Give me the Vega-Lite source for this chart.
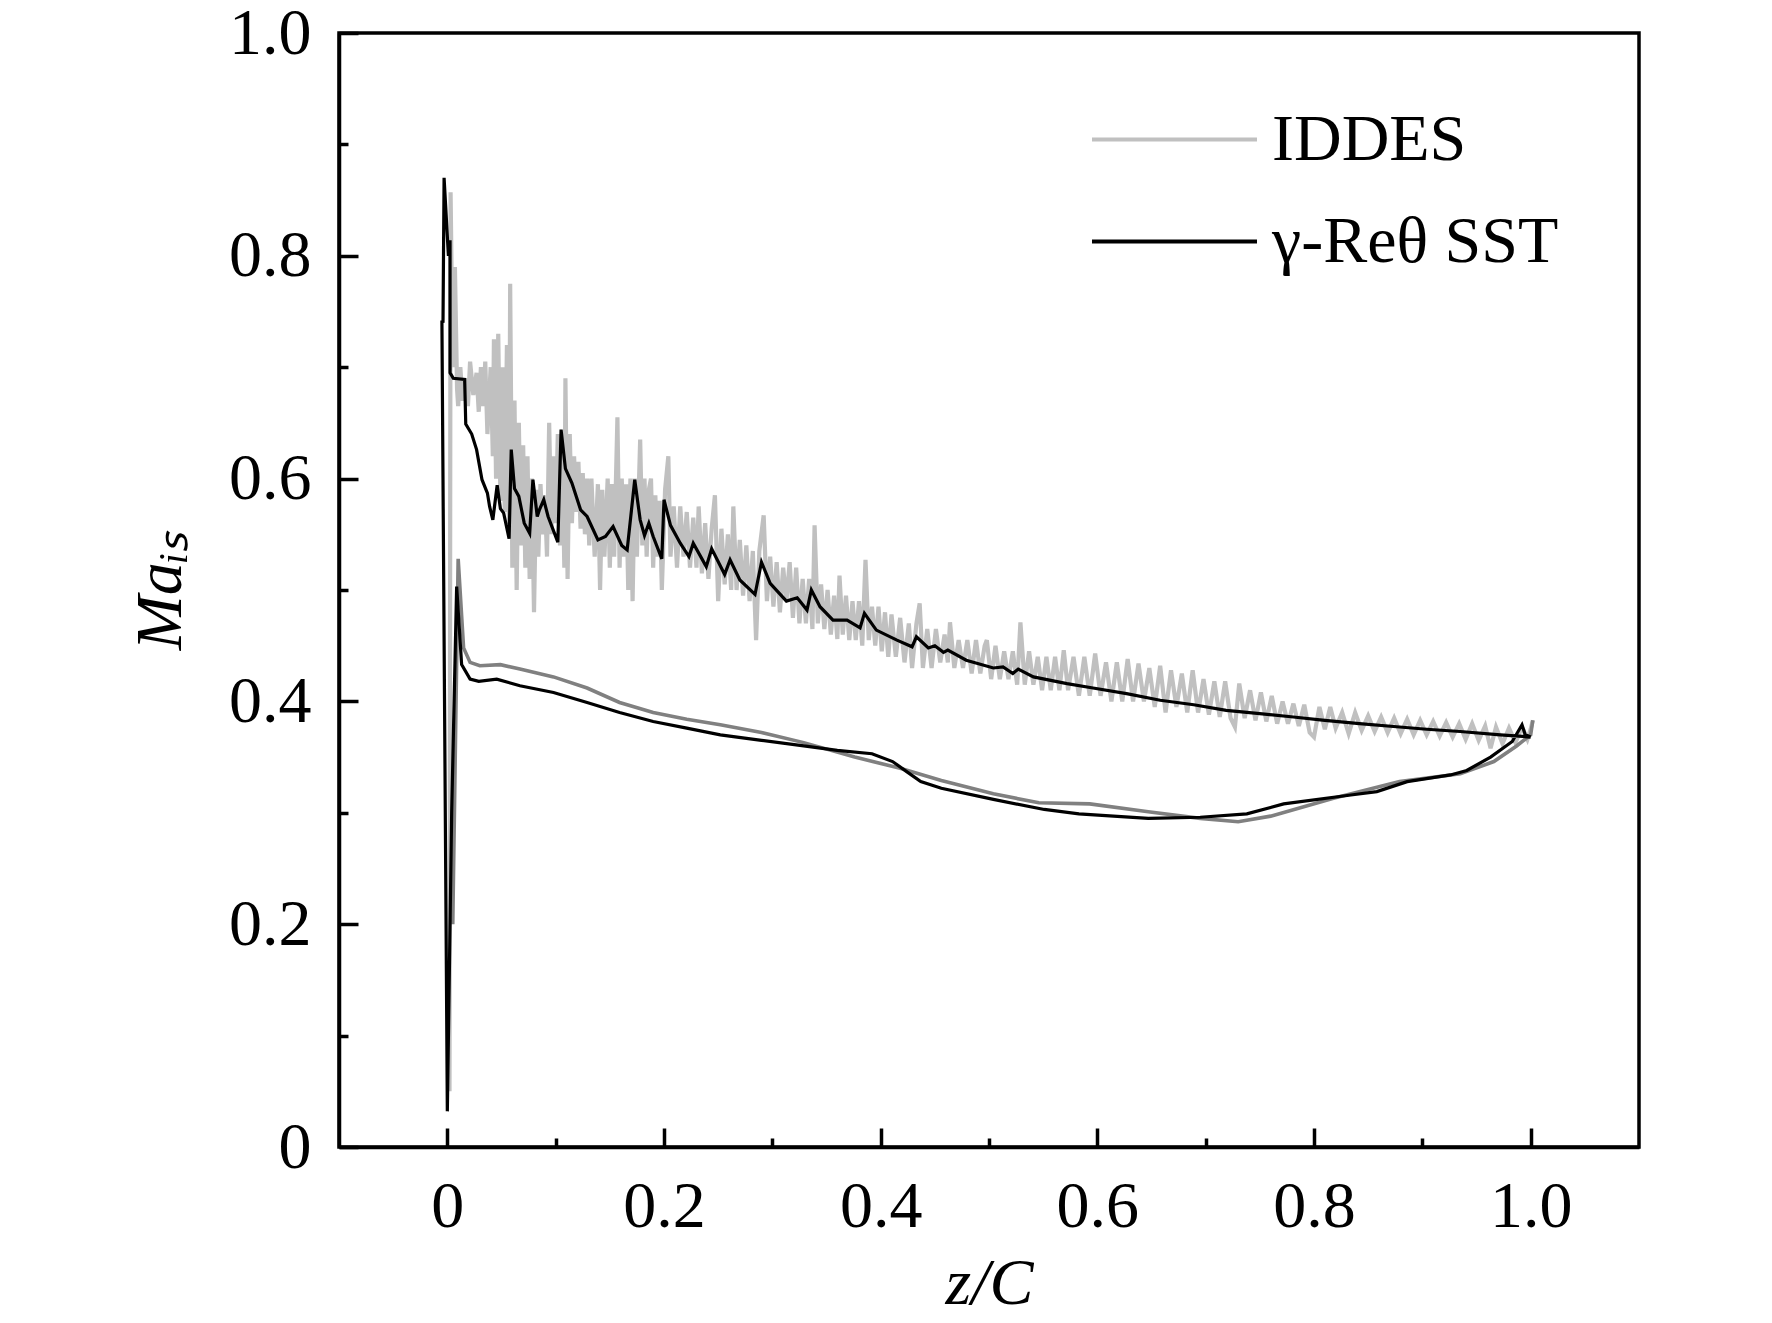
{
  "$schema": "https://vega.github.io/schema/vega-lite/v6.json",
  "autosize": {"type": "none"},
  "padding": {"left": 339, "top": 33, "right": 133, "bottom": 176},
  "width": 1300,
  "height": 1114,
  "config": {
    "view": {"stroke": "#000000", "strokeWidth": 3.5},
    "font": "Liberation Serif",
    "axis": {
      "domainColor": "#000000", "domainWidth": 3.5,
      "tickColor": "#000000", "tickWidth": 3.5,
      "labelFont": "Liberation Serif", "labelFontSize": 66, "labelColor": "#000000",
      "titleFont": "Liberation Serif", "titleFontSize": 66, "titleColor": "#000000",
      "titleFontWeight": "normal", "titleFontStyle": "italic",
      "grid": false
    },
    "legend": {
      "labelFont": "Liberation Serif", "labelFontSize": 66, "labelColor": "#000000", "labelLimit": 0
    }
  },
  "data": {
    "values": [
      {"c": "IDDES-band", "z": 0.30, "m": 0.478, "m2": 0.523},
      {"c": "IDDES-band", "z": 0.35, "m": 0.462, "m2": 0.500},
      {"c": "IDDES-band", "z": 0.40, "m": 0.446, "m2": 0.480},
      {"c": "IDDES-band", "z": 0.45, "m": 0.432, "m2": 0.464},
      {"c": "IDDES-band", "z": 0.50, "m": 0.421, "m2": 0.450},
      {"c": "IDDES-band", "z": 0.55, "m": 0.411, "m2": 0.440},
      {"c": "IDDES-band", "z": 0.60, "m": 0.406, "m2": 0.440},
      {"c": "IDDES-band", "z": 0.65, "m": 0.396, "m2": 0.430},
      {"c": "IDDES-band", "z": 0.70, "m": 0.389, "m2": 0.420},
      {"c": "IDDES-band", "z": 0.75, "m": 0.383, "m2": 0.407},
      {"c": "IDDES-band", "z": 0.80, "m": 0.372, "m2": 0.396},
      {"c": "IDDES-band", "z": 0.85, "m": 0.374, "m2": 0.387},
      {"c": "IDDES-band", "z": 0.90, "m": 0.371, "m2": 0.382},
      {"c": "IDDES-band", "z": 0.95, "m": 0.366, "m2": 0.379},
      {"c": "IDDES-band", "z": 1.00, "m": 0.367, "m2": 0.375},

      {"c": "IDDES", "z": 0.002, "m": 0.05},
      {"c": "IDDES", "z": 0.003, "m": 0.857},
      {"c": "IDDES", "z": 0.005, "m": 0.70},
      {"c": "IDDES", "z": 0.007, "m": 0.79},
      {"c": "IDDES", "z": 0.009, "m": 0.68},
      {"c": "IDDES", "z": 0.010, "m": 0.665},
      {"c": "IDDES", "z": 0.012, "m": 0.70},
      {"c": "IDDES", "z": 0.014, "m": 0.67},
      {"c": "IDDES", "z": 0.017, "m": 0.69},
      {"c": "IDDES", "z": 0.019, "m": 0.665},
      {"c": "IDDES", "z": 0.021, "m": 0.705},
      {"c": "IDDES", "z": 0.024, "m": 0.675},
      {"c": "IDDES", "z": 0.027, "m": 0.695},
      {"c": "IDDES", "z": 0.029, "m": 0.66},
      {"c": "IDDES", "z": 0.031, "m": 0.70},
      {"c": "IDDES", "z": 0.033, "m": 0.665},
      {"c": "IDDES", "z": 0.035, "m": 0.705},
      {"c": "IDDES", "z": 0.037, "m": 0.64},
      {"c": "IDDES", "z": 0.040, "m": 0.70},
      {"c": "IDDES", "z": 0.042, "m": 0.62},
      {"c": "IDDES", "z": 0.043, "m": 0.725},
      {"c": "IDDES", "z": 0.045, "m": 0.60},
      {"c": "IDDES", "z": 0.047, "m": 0.73},
      {"c": "IDDES", "z": 0.049, "m": 0.58},
      {"c": "IDDES", "z": 0.051, "m": 0.70},
      {"c": "IDDES", "z": 0.053, "m": 0.57},
      {"c": "IDDES", "z": 0.055, "m": 0.72},
      {"c": "IDDES", "z": 0.057, "m": 0.55},
      {"c": "IDDES", "z": 0.058, "m": 0.775},
      {"c": "IDDES", "z": 0.060, "m": 0.52},
      {"c": "IDDES", "z": 0.062, "m": 0.67},
      {"c": "IDDES", "z": 0.064, "m": 0.50},
      {"c": "IDDES", "z": 0.066, "m": 0.65},
      {"c": "IDDES", "z": 0.068, "m": 0.54},
      {"c": "IDDES", "z": 0.070, "m": 0.63},
      {"c": "IDDES", "z": 0.072, "m": 0.52},
      {"c": "IDDES", "z": 0.074, "m": 0.62},
      {"c": "IDDES", "z": 0.076, "m": 0.51},
      {"c": "IDDES", "z": 0.078, "m": 0.60},
      {"c": "IDDES", "z": 0.080, "m": 0.48},
      {"c": "IDDES", "z": 0.082, "m": 0.59},
      {"c": "IDDES", "z": 0.084, "m": 0.53},
      {"c": "IDDES", "z": 0.086, "m": 0.595},
      {"c": "IDDES", "z": 0.088, "m": 0.55},
      {"c": "IDDES", "z": 0.090, "m": 0.585},
      {"c": "IDDES", "z": 0.092, "m": 0.53},
      {"c": "IDDES", "z": 0.094, "m": 0.65},
      {"c": "IDDES", "z": 0.096, "m": 0.55},
      {"c": "IDDES", "z": 0.098, "m": 0.62},
      {"c": "IDDES", "z": 0.100, "m": 0.56},
      {"c": "IDDES", "z": 0.102, "m": 0.64},
      {"c": "IDDES", "z": 0.104, "m": 0.54},
      {"c": "IDDES", "z": 0.106, "m": 0.63},
      {"c": "IDDES", "z": 0.108, "m": 0.52},
      {"c": "IDDES", "z": 0.109, "m": 0.69},
      {"c": "IDDES", "z": 0.111, "m": 0.51},
      {"c": "IDDES", "z": 0.113, "m": 0.64},
      {"c": "IDDES", "z": 0.115, "m": 0.56},
      {"c": "IDDES", "z": 0.117, "m": 0.62},
      {"c": "IDDES", "z": 0.119, "m": 0.57},
      {"c": "IDDES", "z": 0.121, "m": 0.615},
      {"c": "IDDES", "z": 0.123, "m": 0.555},
      {"c": "IDDES", "z": 0.125, "m": 0.605},
      {"c": "IDDES", "z": 0.127, "m": 0.55},
      {"c": "IDDES", "z": 0.129, "m": 0.60},
      {"c": "IDDES", "z": 0.131, "m": 0.54},
      {"c": "IDDES", "z": 0.133, "m": 0.60},
      {"c": "IDDES", "z": 0.136, "m": 0.53},
      {"c": "IDDES", "z": 0.139, "m": 0.595},
      {"c": "IDDES", "z": 0.141, "m": 0.50},
      {"c": "IDDES", "z": 0.143, "m": 0.59},
      {"c": "IDDES", "z": 0.145, "m": 0.53},
      {"c": "IDDES", "z": 0.148, "m": 0.60},
      {"c": "IDDES", "z": 0.150, "m": 0.52},
      {"c": "IDDES", "z": 0.152, "m": 0.595},
      {"c": "IDDES", "z": 0.154, "m": 0.53},
      {"c": "IDDES", "z": 0.157, "m": 0.655},
      {"c": "IDDES", "z": 0.159, "m": 0.52},
      {"c": "IDDES", "z": 0.161, "m": 0.60},
      {"c": "IDDES", "z": 0.163, "m": 0.53},
      {"c": "IDDES", "z": 0.165, "m": 0.595},
      {"c": "IDDES", "z": 0.167, "m": 0.50},
      {"c": "IDDES", "z": 0.169, "m": 0.60},
      {"c": "IDDES", "z": 0.171, "m": 0.49},
      {"c": "IDDES", "z": 0.173, "m": 0.60},
      {"c": "IDDES", "z": 0.175, "m": 0.53},
      {"c": "IDDES", "z": 0.178, "m": 0.635},
      {"c": "IDDES", "z": 0.180, "m": 0.54},
      {"c": "IDDES", "z": 0.182, "m": 0.60},
      {"c": "IDDES", "z": 0.184, "m": 0.53},
      {"c": "IDDES", "z": 0.186, "m": 0.59},
      {"c": "IDDES", "z": 0.188, "m": 0.60},
      {"c": "IDDES", "z": 0.190, "m": 0.52},
      {"c": "IDDES", "z": 0.192, "m": 0.585},
      {"c": "IDDES", "z": 0.194, "m": 0.53},
      {"c": "IDDES", "z": 0.196, "m": 0.58},
      {"c": "IDDES", "z": 0.198, "m": 0.50},
      {"c": "IDDES", "z": 0.201, "m": 0.59},
      {"c": "IDDES", "z": 0.204, "m": 0.62},
      {"c": "IDDES", "z": 0.206, "m": 0.53},
      {"c": "IDDES", "z": 0.209, "m": 0.575},
      {"c": "IDDES", "z": 0.212, "m": 0.52},
      {"c": "IDDES", "z": 0.215, "m": 0.575},
      {"c": "IDDES", "z": 0.218, "m": 0.53},
      {"c": "IDDES", "z": 0.221, "m": 0.57},
      {"c": "IDDES", "z": 0.224, "m": 0.52},
      {"c": "IDDES", "z": 0.227, "m": 0.565},
      {"c": "IDDES", "z": 0.230, "m": 0.52},
      {"c": "IDDES", "z": 0.232, "m": 0.575},
      {"c": "IDDES", "z": 0.235, "m": 0.515},
      {"c": "IDDES", "z": 0.238, "m": 0.56},
      {"c": "IDDES", "z": 0.241, "m": 0.51},
      {"c": "IDDES", "z": 0.244, "m": 0.555},
      {"c": "IDDES", "z": 0.247, "m": 0.585},
      {"c": "IDDES", "z": 0.250, "m": 0.49},
      {"c": "IDDES", "z": 0.253, "m": 0.555},
      {"c": "IDDES", "z": 0.256, "m": 0.505},
      {"c": "IDDES", "z": 0.259, "m": 0.55},
      {"c": "IDDES", "z": 0.262, "m": 0.50},
      {"c": "IDDES", "z": 0.264, "m": 0.575},
      {"c": "IDDES", "z": 0.267, "m": 0.50},
      {"c": "IDDES", "z": 0.270, "m": 0.545},
      {"c": "IDDES", "z": 0.273, "m": 0.495},
      {"c": "IDDES", "z": 0.276, "m": 0.54},
      {"c": "IDDES", "z": 0.279, "m": 0.49},
      {"c": "IDDES", "z": 0.282, "m": 0.535},
      {"c": "IDDES", "z": 0.285, "m": 0.455},
      {"c": "IDDES", "z": 0.288, "m": 0.535},
      {"c": "IDDES", "z": 0.292, "m": 0.567},
      {"c": "IDDES", "z": 0.295, "m": 0.49},
      {"c": "IDDES", "z": 0.298, "m": 0.53},
      {"c": "IDDES", "z": 0.301, "m": 0.485},
      {"c": "IDDES", "z": 0.304, "m": 0.525},
      {"c": "IDDES", "z": 0.307, "m": 0.48},
      {"c": "IDDES", "z": 0.310, "m": 0.52},
      {"c": "IDDES", "z": 0.313, "m": 0.49},
      {"c": "IDDES", "z": 0.316, "m": 0.525},
      {"c": "IDDES", "z": 0.319, "m": 0.475},
      {"c": "IDDES", "z": 0.322, "m": 0.52},
      {"c": "IDDES", "z": 0.325, "m": 0.47},
      {"c": "IDDES", "z": 0.328, "m": 0.51},
      {"c": "IDDES", "z": 0.331, "m": 0.47},
      {"c": "IDDES", "z": 0.334, "m": 0.51},
      {"c": "IDDES", "z": 0.337, "m": 0.465},
      {"c": "IDDES", "z": 0.339, "m": 0.558},
      {"c": "IDDES", "z": 0.342, "m": 0.47},
      {"c": "IDDES", "z": 0.345, "m": 0.505},
      {"c": "IDDES", "z": 0.348, "m": 0.465},
      {"c": "IDDES", "z": 0.351, "m": 0.50},
      {"c": "IDDES", "z": 0.354, "m": 0.46},
      {"c": "IDDES", "z": 0.357, "m": 0.495},
      {"c": "IDDES", "z": 0.360, "m": 0.456},
      {"c": "IDDES", "z": 0.362, "m": 0.513},
      {"c": "IDDES", "z": 0.365, "m": 0.46},
      {"c": "IDDES", "z": 0.368, "m": 0.495},
      {"c": "IDDES", "z": 0.371, "m": 0.455},
      {"c": "IDDES", "z": 0.374, "m": 0.49},
      {"c": "IDDES", "z": 0.377, "m": 0.455},
      {"c": "IDDES", "z": 0.380, "m": 0.49},
      {"c": "IDDES", "z": 0.383, "m": 0.45},
      {"c": "IDDES", "z": 0.386, "m": 0.527},
      {"c": "IDDES", "z": 0.389, "m": 0.455},
      {"c": "IDDES", "z": 0.392, "m": 0.485},
      {"c": "IDDES", "z": 0.395, "m": 0.45},
      {"c": "IDDES", "z": 0.398, "m": 0.485},
      {"c": "IDDES", "z": 0.401, "m": 0.445},
      {"c": "IDDES", "z": 0.404, "m": 0.48},
      {"c": "IDDES", "z": 0.407, "m": 0.44},
      {"c": "IDDES", "z": 0.410, "m": 0.478},
      {"c": "IDDES", "z": 0.414, "m": 0.44},
      {"c": "IDDES", "z": 0.418, "m": 0.475},
      {"c": "IDDES", "z": 0.422, "m": 0.435},
      {"c": "IDDES", "z": 0.426, "m": 0.47},
      {"c": "IDDES", "z": 0.429, "m": 0.43},
      {"c": "IDDES", "z": 0.433, "m": 0.47},
      {"c": "IDDES", "z": 0.436, "m": 0.488},
      {"c": "IDDES", "z": 0.439, "m": 0.43},
      {"c": "IDDES", "z": 0.443, "m": 0.465},
      {"c": "IDDES", "z": 0.447, "m": 0.43},
      {"c": "IDDES", "z": 0.451, "m": 0.465},
      {"c": "IDDES", "z": 0.455, "m": 0.435},
      {"c": "IDDES", "z": 0.459, "m": 0.46},
      {"c": "IDDES", "z": 0.462, "m": 0.435},
      {"c": "IDDES", "z": 0.464, "m": 0.471},
      {"c": "IDDES", "z": 0.468, "m": 0.43},
      {"c": "IDDES", "z": 0.472, "m": 0.455},
      {"c": "IDDES", "z": 0.476, "m": 0.43},
      {"c": "IDDES", "z": 0.480, "m": 0.455},
      {"c": "IDDES", "z": 0.484, "m": 0.425},
      {"c": "IDDES", "z": 0.488, "m": 0.455},
      {"c": "IDDES", "z": 0.492, "m": 0.425},
      {"c": "IDDES", "z": 0.496, "m": 0.45},
      {"c": "IDDES", "z": 0.498, "m": 0.455},
      {"c": "IDDES", "z": 0.502, "m": 0.42},
      {"c": "IDDES", "z": 0.506, "m": 0.45},
      {"c": "IDDES", "z": 0.510, "m": 0.42},
      {"c": "IDDES", "z": 0.514, "m": 0.445},
      {"c": "IDDES", "z": 0.518, "m": 0.42},
      {"c": "IDDES", "z": 0.522, "m": 0.445},
      {"c": "IDDES", "z": 0.526, "m": 0.415},
      {"c": "IDDES", "z": 0.529, "m": 0.471},
      {"c": "IDDES", "z": 0.533, "m": 0.415},
      {"c": "IDDES", "z": 0.537, "m": 0.445},
      {"c": "IDDES", "z": 0.541, "m": 0.415},
      {"c": "IDDES", "z": 0.545, "m": 0.44},
      {"c": "IDDES", "z": 0.549, "m": 0.41},
      {"c": "IDDES", "z": 0.553, "m": 0.44},
      {"c": "IDDES", "z": 0.557, "m": 0.41},
      {"c": "IDDES", "z": 0.561, "m": 0.44},
      {"c": "IDDES", "z": 0.565, "m": 0.41},
      {"c": "IDDES", "z": 0.569, "m": 0.446},
      {"c": "IDDES", "z": 0.573, "m": 0.41},
      {"c": "IDDES", "z": 0.578, "m": 0.44},
      {"c": "IDDES", "z": 0.583, "m": 0.405},
      {"c": "IDDES", "z": 0.588, "m": 0.44},
      {"c": "IDDES", "z": 0.593, "m": 0.405},
      {"c": "IDDES", "z": 0.598, "m": 0.443},
      {"c": "IDDES", "z": 0.603, "m": 0.405},
      {"c": "IDDES", "z": 0.608, "m": 0.435},
      {"c": "IDDES", "z": 0.613, "m": 0.40},
      {"c": "IDDES", "z": 0.618, "m": 0.435},
      {"c": "IDDES", "z": 0.623, "m": 0.40},
      {"c": "IDDES", "z": 0.628, "m": 0.438},
      {"c": "IDDES", "z": 0.633, "m": 0.40},
      {"c": "IDDES", "z": 0.638, "m": 0.434},
      {"c": "IDDES", "z": 0.643, "m": 0.40},
      {"c": "IDDES", "z": 0.648, "m": 0.43},
      {"c": "IDDES", "z": 0.653, "m": 0.395},
      {"c": "IDDES", "z": 0.658, "m": 0.432},
      {"c": "IDDES", "z": 0.663, "m": 0.39},
      {"c": "IDDES", "z": 0.668, "m": 0.428},
      {"c": "IDDES", "z": 0.673, "m": 0.395},
      {"c": "IDDES", "z": 0.678, "m": 0.425},
      {"c": "IDDES", "z": 0.683, "m": 0.39},
      {"c": "IDDES", "z": 0.688, "m": 0.428},
      {"c": "IDDES", "z": 0.693, "m": 0.39},
      {"c": "IDDES", "z": 0.698, "m": 0.42},
      {"c": "IDDES", "z": 0.703, "m": 0.388},
      {"c": "IDDES", "z": 0.708, "m": 0.418},
      {"c": "IDDES", "z": 0.713, "m": 0.386},
      {"c": "IDDES", "z": 0.718, "m": 0.418},
      {"c": "IDDES", "z": 0.723, "m": 0.385},
      {"c": "IDDES", "z": 0.727, "m": 0.377},
      {"c": "IDDES", "z": 0.731, "m": 0.416},
      {"c": "IDDES", "z": 0.736, "m": 0.385},
      {"c": "IDDES", "z": 0.741, "m": 0.41},
      {"c": "IDDES", "z": 0.746, "m": 0.383},
      {"c": "IDDES", "z": 0.751, "m": 0.408},
      {"c": "IDDES", "z": 0.756, "m": 0.382},
      {"c": "IDDES", "z": 0.761, "m": 0.405},
      {"c": "IDDES", "z": 0.766, "m": 0.38},
      {"c": "IDDES", "z": 0.771, "m": 0.40},
      {"c": "IDDES", "z": 0.776, "m": 0.38},
      {"c": "IDDES", "z": 0.781, "m": 0.398},
      {"c": "IDDES", "z": 0.786, "m": 0.378},
      {"c": "IDDES", "z": 0.791, "m": 0.397},
      {"c": "IDDES", "z": 0.796, "m": 0.372},
      {"c": "IDDES", "z": 0.800, "m": 0.368},
      {"c": "IDDES", "z": 0.805, "m": 0.395},
      {"c": "IDDES", "z": 0.810, "m": 0.375},
      {"c": "IDDES", "z": 0.815, "m": 0.395},
      {"c": "IDDES", "z": 0.820, "m": 0.376},
      {"c": "IDDES", "z": 0.826, "m": 0.39},
      {"c": "IDDES", "z": 0.832, "m": 0.371},
      {"c": "IDDES", "z": 0.838, "m": 0.39},
      {"c": "IDDES", "z": 0.844, "m": 0.374},
      {"c": "IDDES", "z": 0.850, "m": 0.387},
      {"c": "IDDES", "z": 0.856, "m": 0.373},
      {"c": "IDDES", "z": 0.862, "m": 0.386},
      {"c": "IDDES", "z": 0.868, "m": 0.372},
      {"c": "IDDES", "z": 0.874, "m": 0.385},
      {"c": "IDDES", "z": 0.880, "m": 0.371},
      {"c": "IDDES", "z": 0.886, "m": 0.384},
      {"c": "IDDES", "z": 0.892, "m": 0.37},
      {"c": "IDDES", "z": 0.898, "m": 0.383},
      {"c": "IDDES", "z": 0.904, "m": 0.37},
      {"c": "IDDES", "z": 0.910, "m": 0.382},
      {"c": "IDDES", "z": 0.916, "m": 0.369},
      {"c": "IDDES", "z": 0.922, "m": 0.381},
      {"c": "IDDES", "z": 0.928, "m": 0.368},
      {"c": "IDDES", "z": 0.934, "m": 0.38},
      {"c": "IDDES", "z": 0.940, "m": 0.366},
      {"c": "IDDES", "z": 0.946, "m": 0.38},
      {"c": "IDDES", "z": 0.952, "m": 0.365},
      {"c": "IDDES", "z": 0.958, "m": 0.378},
      {"c": "IDDES", "z": 0.963, "m": 0.358},
      {"c": "IDDES", "z": 0.968, "m": 0.377},
      {"c": "IDDES", "z": 0.974, "m": 0.362},
      {"c": "IDDES", "z": 0.980, "m": 0.376},
      {"c": "IDDES", "z": 0.986, "m": 0.363},
      {"c": "IDDES", "z": 0.992, "m": 0.377},
      {"c": "IDDES", "z": 0.997, "m": 0.366},
      {"c": "IDDES", "z": 1.000, "m": 0.375},
      {"c": "IDDES", "z": 1.002, "m": 0.383},

      {"c": "IDDES-ps", "z": 0.005, "m": 0.20},
      {"c": "IDDES-ps", "z": 0.010, "m": 0.528},
      {"c": "IDDES-ps", "z": 0.015, "m": 0.448},
      {"c": "IDDES-ps", "z": 0.021, "m": 0.435},
      {"c": "IDDES-ps", "z": 0.030, "m": 0.432},
      {"c": "IDDES-ps", "z": 0.049, "m": 0.433},
      {"c": "IDDES-ps", "z": 0.067, "m": 0.429},
      {"c": "IDDES-ps", "z": 0.098, "m": 0.422},
      {"c": "IDDES-ps", "z": 0.129, "m": 0.412},
      {"c": "IDDES-ps", "z": 0.159, "m": 0.399},
      {"c": "IDDES-ps", "z": 0.190, "m": 0.390},
      {"c": "IDDES-ps", "z": 0.221, "m": 0.384},
      {"c": "IDDES-ps", "z": 0.252, "m": 0.379},
      {"c": "IDDES-ps", "z": 0.290, "m": 0.372},
      {"c": "IDDES-ps", "z": 0.329, "m": 0.363},
      {"c": "IDDES-ps", "z": 0.376, "m": 0.350},
      {"c": "IDDES-ps", "z": 0.418, "m": 0.340},
      {"c": "IDDES-ps", "z": 0.456, "m": 0.329},
      {"c": "IDDES-ps", "z": 0.504, "m": 0.317},
      {"c": "IDDES-ps", "z": 0.546, "m": 0.309},
      {"c": "IDDES-ps", "z": 0.593, "m": 0.308},
      {"c": "IDDES-ps", "z": 0.647, "m": 0.301},
      {"c": "IDDES-ps", "z": 0.695, "m": 0.295},
      {"c": "IDDES-ps", "z": 0.730, "m": 0.292},
      {"c": "IDDES-ps", "z": 0.760, "m": 0.297},
      {"c": "IDDES-ps", "z": 0.818, "m": 0.313},
      {"c": "IDDES-ps", "z": 0.879, "m": 0.328},
      {"c": "IDDES-ps", "z": 0.935, "m": 0.335},
      {"c": "IDDES-ps", "z": 0.966, "m": 0.346},
      {"c": "IDDES-ps", "z": 0.987, "m": 0.360},
      {"c": "IDDES-ps", "z": 1.000, "m": 0.370},
      {"c": "IDDES-ps", "z": 1.002, "m": 0.383},

      {"c": "γ-Reθ SST", "z": 1.000, "m": 0.368},
      {"c": "γ-Reθ SST", "z": 0.972, "m": 0.370},
      {"c": "γ-Reθ SST", "z": 0.935, "m": 0.373},
      {"c": "γ-Reθ SST", "z": 0.904, "m": 0.375},
      {"c": "γ-Reθ SST", "z": 0.879, "m": 0.377},
      {"c": "γ-Reθ SST", "z": 0.842, "m": 0.380},
      {"c": "γ-Reθ SST", "z": 0.810, "m": 0.383},
      {"c": "γ-Reθ SST", "z": 0.781, "m": 0.386},
      {"c": "γ-Reθ SST", "z": 0.750, "m": 0.389},
      {"c": "γ-Reθ SST", "z": 0.719, "m": 0.392},
      {"c": "γ-Reθ SST", "z": 0.689, "m": 0.397},
      {"c": "γ-Reθ SST", "z": 0.658, "m": 0.401},
      {"c": "γ-Reθ SST", "z": 0.627, "m": 0.407},
      {"c": "γ-Reθ SST", "z": 0.596, "m": 0.412},
      {"c": "γ-Reθ SST", "z": 0.572, "m": 0.416},
      {"c": "γ-Reθ SST", "z": 0.541, "m": 0.422},
      {"c": "γ-Reθ SST", "z": 0.527, "m": 0.429},
      {"c": "γ-Reθ SST", "z": 0.522, "m": 0.425},
      {"c": "γ-Reθ SST", "z": 0.513, "m": 0.431},
      {"c": "γ-Reθ SST", "z": 0.504, "m": 0.430},
      {"c": "γ-Reθ SST", "z": 0.479, "m": 0.437},
      {"c": "γ-Reθ SST", "z": 0.462, "m": 0.446},
      {"c": "γ-Reθ SST", "z": 0.458, "m": 0.444},
      {"c": "γ-Reθ SST", "z": 0.450, "m": 0.450},
      {"c": "γ-Reθ SST", "z": 0.444, "m": 0.448},
      {"c": "γ-Reθ SST", "z": 0.433, "m": 0.458},
      {"c": "γ-Reθ SST", "z": 0.429, "m": 0.449},
      {"c": "γ-Reθ SST", "z": 0.415, "m": 0.455},
      {"c": "γ-Reθ SST", "z": 0.396, "m": 0.464},
      {"c": "γ-Reθ SST", "z": 0.385, "m": 0.479},
      {"c": "γ-Reθ SST", "z": 0.381, "m": 0.466},
      {"c": "γ-Reθ SST", "z": 0.369, "m": 0.473},
      {"c": "γ-Reθ SST", "z": 0.356, "m": 0.473},
      {"c": "γ-Reθ SST", "z": 0.344, "m": 0.485},
      {"c": "γ-Reθ SST", "z": 0.336, "m": 0.500},
      {"c": "γ-Reθ SST", "z": 0.332, "m": 0.482},
      {"c": "γ-Reθ SST", "z": 0.323, "m": 0.493},
      {"c": "γ-Reθ SST", "z": 0.313, "m": 0.490},
      {"c": "γ-Reθ SST", "z": 0.298, "m": 0.506},
      {"c": "γ-Reθ SST", "z": 0.290, "m": 0.525},
      {"c": "γ-Reθ SST", "z": 0.284, "m": 0.496},
      {"c": "γ-Reθ SST", "z": 0.270, "m": 0.509},
      {"c": "γ-Reθ SST", "z": 0.261, "m": 0.527},
      {"c": "γ-Reθ SST", "z": 0.256, "m": 0.514},
      {"c": "γ-Reθ SST", "z": 0.244, "m": 0.537},
      {"c": "γ-Reθ SST", "z": 0.239, "m": 0.521},
      {"c": "γ-Reθ SST", "z": 0.227, "m": 0.542},
      {"c": "γ-Reθ SST", "z": 0.223, "m": 0.530},
      {"c": "γ-Reθ SST", "z": 0.215, "m": 0.542},
      {"c": "γ-Reθ SST", "z": 0.206, "m": 0.558},
      {"c": "γ-Reθ SST", "z": 0.200, "m": 0.581},
      {"c": "γ-Reθ SST", "z": 0.198, "m": 0.528},
      {"c": "γ-Reθ SST", "z": 0.190, "m": 0.548},
      {"c": "γ-Reθ SST", "z": 0.186, "m": 0.560},
      {"c": "γ-Reθ SST", "z": 0.182, "m": 0.549},
      {"c": "γ-Reθ SST", "z": 0.178, "m": 0.563},
      {"c": "γ-Reθ SST", "z": 0.173, "m": 0.599},
      {"c": "γ-Reθ SST", "z": 0.166, "m": 0.536},
      {"c": "γ-Reθ SST", "z": 0.161, "m": 0.540},
      {"c": "γ-Reθ SST", "z": 0.153, "m": 0.557},
      {"c": "γ-Reθ SST", "z": 0.146, "m": 0.548},
      {"c": "γ-Reθ SST", "z": 0.139, "m": 0.545},
      {"c": "γ-Reθ SST", "z": 0.129, "m": 0.566},
      {"c": "γ-Reθ SST", "z": 0.123, "m": 0.572},
      {"c": "γ-Reθ SST", "z": 0.115, "m": 0.596},
      {"c": "γ-Reθ SST", "z": 0.109, "m": 0.609},
      {"c": "γ-Reθ SST", "z": 0.105, "m": 0.644},
      {"c": "γ-Reθ SST", "z": 0.102, "m": 0.543},
      {"c": "γ-Reθ SST", "z": 0.093, "m": 0.566},
      {"c": "γ-Reθ SST", "z": 0.089, "m": 0.581},
      {"c": "γ-Reθ SST", "z": 0.085, "m": 0.572},
      {"c": "γ-Reθ SST", "z": 0.083, "m": 0.566},
      {"c": "γ-Reθ SST", "z": 0.079, "m": 0.599},
      {"c": "γ-Reθ SST", "z": 0.076, "m": 0.551},
      {"c": "γ-Reθ SST", "z": 0.071, "m": 0.560},
      {"c": "γ-Reθ SST", "z": 0.066, "m": 0.584},
      {"c": "γ-Reθ SST", "z": 0.062, "m": 0.591},
      {"c": "γ-Reθ SST", "z": 0.059, "m": 0.626},
      {"c": "γ-Reθ SST", "z": 0.057, "m": 0.546},
      {"c": "γ-Reθ SST", "z": 0.052, "m": 0.569},
      {"c": "γ-Reθ SST", "z": 0.049, "m": 0.573},
      {"c": "γ-Reθ SST", "z": 0.046, "m": 0.594},
      {"c": "γ-Reθ SST", "z": 0.042, "m": 0.563},
      {"c": "γ-Reθ SST", "z": 0.039, "m": 0.575},
      {"c": "γ-Reθ SST", "z": 0.037, "m": 0.587},
      {"c": "γ-Reθ SST", "z": 0.032, "m": 0.599},
      {"c": "γ-Reθ SST", "z": 0.027, "m": 0.626},
      {"c": "γ-Reθ SST", "z": 0.0225, "m": 0.640},
      {"c": "γ-Reθ SST", "z": 0.017, "m": 0.649},
      {"c": "γ-Reθ SST", "z": 0.016, "m": 0.689},
      {"c": "γ-Reθ SST", "z": 0.0055, "m": 0.690},
      {"c": "γ-Reθ SST", "z": 0.0025, "m": 0.695},
      {"c": "γ-Reθ SST", "z": 0.0025, "m": 0.814},
      {"c": "γ-Reθ SST", "z": 0.001, "m": 0.800},
      {"c": "γ-Reθ SST", "z": -0.003, "m": 0.870},
      {"c": "γ-Reθ SST", "z": -0.004, "m": 0.740},
      {"c": "γ-Reθ SST", "z": -0.005, "m": 0.742},
      {"c": "γ-Reθ SST", "z": -0.004, "m": 0.600},
      {"c": "γ-Reθ SST", "z": 0.000, "m": 0.032},
      {"c": "γ-Reθ SST", "z": 0.004, "m": 0.300},
      {"c": "γ-Reθ SST", "z": 0.0086, "m": 0.503},
      {"c": "γ-Reθ SST", "z": 0.0132, "m": 0.433},
      {"c": "γ-Reθ SST", "z": 0.021, "m": 0.420},
      {"c": "γ-Reθ SST", "z": 0.029, "m": 0.418},
      {"c": "γ-Reθ SST", "z": 0.0456, "m": 0.420},
      {"c": "γ-Reθ SST", "z": 0.067, "m": 0.414},
      {"c": "γ-Reθ SST", "z": 0.098, "m": 0.408},
      {"c": "γ-Reθ SST", "z": 0.129, "m": 0.399},
      {"c": "γ-Reθ SST", "z": 0.159, "m": 0.390},
      {"c": "γ-Reθ SST", "z": 0.190, "m": 0.382},
      {"c": "γ-Reθ SST", "z": 0.221, "m": 0.376},
      {"c": "γ-Reθ SST", "z": 0.252, "m": 0.370},
      {"c": "γ-Reθ SST", "z": 0.290, "m": 0.365},
      {"c": "γ-Reθ SST", "z": 0.329, "m": 0.360},
      {"c": "γ-Reθ SST", "z": 0.360, "m": 0.356},
      {"c": "γ-Reθ SST", "z": 0.392, "m": 0.353},
      {"c": "γ-Reθ SST", "z": 0.411, "m": 0.346},
      {"c": "γ-Reθ SST", "z": 0.424, "m": 0.337},
      {"c": "γ-Reθ SST", "z": 0.437, "m": 0.328},
      {"c": "γ-Reθ SST", "z": 0.456, "m": 0.322},
      {"c": "γ-Reθ SST", "z": 0.504, "m": 0.312},
      {"c": "γ-Reθ SST", "z": 0.551, "m": 0.303},
      {"c": "γ-Reθ SST", "z": 0.583, "m": 0.299},
      {"c": "γ-Reθ SST", "z": 0.647, "m": 0.295},
      {"c": "γ-Reθ SST", "z": 0.695, "m": 0.296},
      {"c": "γ-Reθ SST", "z": 0.738, "m": 0.299},
      {"c": "γ-Reθ SST", "z": 0.772, "m": 0.308},
      {"c": "γ-Reθ SST", "z": 0.834, "m": 0.316},
      {"c": "γ-Reθ SST", "z": 0.858, "m": 0.319},
      {"c": "γ-Reθ SST", "z": 0.886, "m": 0.328},
      {"c": "γ-Reθ SST", "z": 0.926, "m": 0.334},
      {"c": "γ-Reθ SST", "z": 0.941, "m": 0.338},
      {"c": "γ-Reθ SST", "z": 0.963, "m": 0.350},
      {"c": "γ-Reθ SST", "z": 0.983, "m": 0.364},
      {"c": "γ-Reθ SST", "z": 0.992, "m": 0.379},
      {"c": "γ-Reθ SST", "z": 0.995, "m": 0.370},
      {"c": "γ-Reθ SST", "z": 1.000, "m": 0.368}
    ]
  },
  "transform": [{"window": [{"op": "row_number", "as": "i"}]}],
  "encoding": {
    "x": {
      "field": "z", "type": "quantitative",
      "scale": {"domain": [-0.1, 1.1], "nice": false, "zero": false},
      "axis": {
        "title": "z/C",
        "values": [0, 0.1, 0.2, 0.3, 0.4, 0.5, 0.6, 0.7, 0.8, 0.9, 1.0],
        "labelExpr": "datum.value == 0 ? '0' : (round(datum.value * 10) % 2 == 1 ? '' : format(datum.value, '.1f'))",
        "tickSize": {"condition": {"test": "round(datum.value * 10) % 2 == 1", "value": -9}, "value": -19},
        "labelPadding": 46,
        "labelFlush": false,
        "titleX": 650,
        "titleY": 136,
        "titleBaseline": "middle",
        "titleAlign": "center"
      }
    },
    "y": {
      "field": "m", "type": "quantitative", "stack": null,
      "scale": {"domain": [0, 1], "nice": false},
      "axis": {
        "title": "Maᵢₛ",
        "values": [0, 0.1, 0.2, 0.3, 0.4, 0.5, 0.6, 0.7, 0.8, 0.9, 1.0],
        "labelExpr": "datum.value == 0 ? '0' : (round(datum.value * 10) % 2 == 1 ? '' : format(datum.value, '.1f'))",
        "tickSize": {"condition": {"test": "round(datum.value * 10) % 2 == 1", "value": -9}, "value": -19},
        "labelPadding": 47,
        "labelFlush": false,
        "titleX": -179,
        "titleY": 557,
        "titleAngle": -90,
        "titleBaseline": "middle",
        "titleAlign": "center"
      }
    },
    "color": {
      "field": "c", "type": "nominal",
      "scale": {
        "domain": ["IDDES", "IDDES-band", "IDDES-ps", "γ-Reθ SST"],
        "range": ["#c0c0c0", "#c2c2c2", "#808080", "#000000"]
      },
      "legend": {
        "values": ["IDDES", "γ-Reθ SST"],
        "title": null,
        "orient": "none",
        "legendX": 792,
        "legendY": 63,
        "padding": 0,
        "symbolType": "M-2,0H2",
        "symbolSize": 6806,
        "symbolStrokeWidth": 4,
        "symbolFillColor": "transparent",
        "labelOffset": 54,
        "labelLimit": 0,
        "rowPadding": 25
      }
    },
    "order": {"field": "i", "type": "quantitative"}
  },
  "layer": [
    {
      "transform": [{"filter": "datum.c == 'IDDES-band'"}],
      "mark": {"type": "area", "opacity": 1},
      "encoding": {"y2": {"field": "m2"}}
    },
    {
      "transform": [{"filter": "datum.c == 'IDDES'"}],
      "mark": {"type": "line", "strokeWidth": 4.2}
    },
    {
      "transform": [{"filter": "datum.c == 'IDDES-ps'"}],
      "mark": {"type": "line", "strokeWidth": 3.6}
    },
    {
      "transform": [{"filter": "datum.c == 'γ-Reθ SST'"}],
      "mark": {"type": "line", "strokeWidth": 3.2}
    }
  ]
}
